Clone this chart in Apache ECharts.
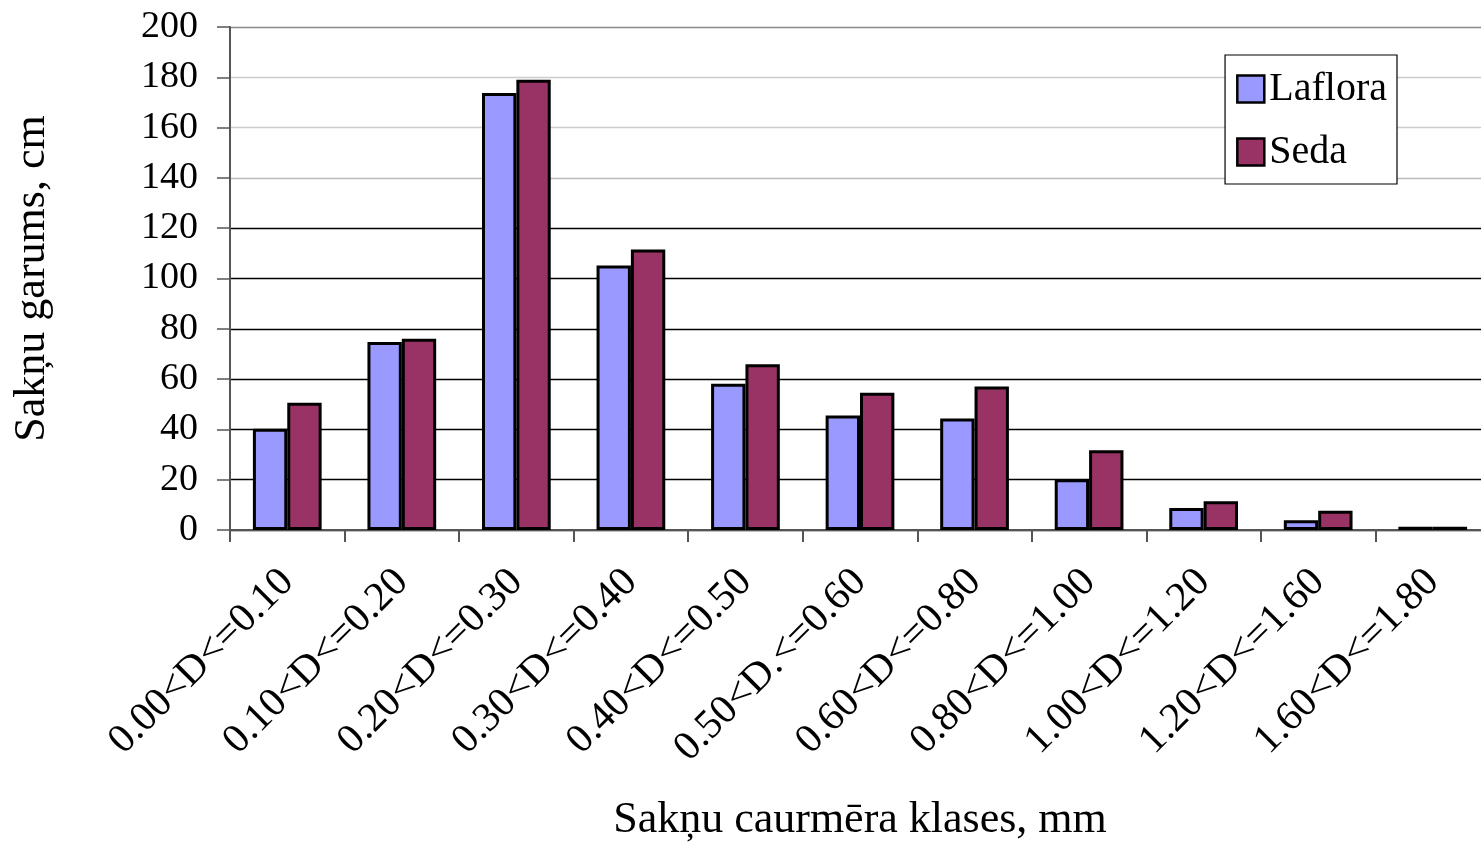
<!DOCTYPE html>
<html>
<head>
<meta charset="utf-8">
<script src="https://cdn.jsdelivr.net/npm/echarts@6/dist/echarts.min.js"></script>
<style>html,body{margin:0;padding:0;background:#fff;}#c{width:1481px;height:845px;}</style>
</head>
<body>
<div id="c"></div>
<script>
const categories = ['0.00<D<=0.10','0.10<D<=0.20','0.20<D<=0.30','0.30<D<=0.40','0.40<D<=0.50','0.50<D.<=0.60','0.60<D<=0.80','0.80<D<=1.00','1.00<D<=1.20','1.20<D<=1.60','1.60<D<=1.80'];
const laflora = [40.3, 74.8, 173.8, 105.2, 58.2, 45.5, 44.3, 20.2, 8.7, 3.9, 1.3];
const seda = [50.6, 76.0, 179.0, 111.5, 65.9, 54.6, 57.1, 31.7, 11.4, 7.7, 1.3];
const yTicks = {min: 0, max: 200, interval: 20};

const font = '"Liberation Serif", "DejaVu Serif", serif';
const chart = echarts.init(document.getElementById('c'));
chart.setOption({
  animation: false,
  backgroundColor: '#fff',
  textStyle: {fontFamily: font},
  legend: {
    right: 84, top: 55,
    orient: 'vertical',
    padding: [14, 10, 12, 11],
    itemGap: 23,
    itemWidth: 27, itemHeight: 27,
    icon: 'rect',
    borderColor: '#000', borderWidth: 1.2,
    borderRadius: 0,
    backgroundColor: '#fff',
    textStyle: {fontFamily: font, fontSize: 40, color: '#000', lineHeight: 40},
    data: [
      {name: 'Laflora', itemStyle: {color: '#9999ff', borderColor: '#000', borderWidth: 2.5}},
      {name: 'Seda', itemStyle: {color: '#993366', borderColor: '#000', borderWidth: 2.5}}
    ]
  },
  grid: {left: 230, top: 27, width: 1260, bottom: 315, containLabel: false, outerBoundsMode: 'none'},
  xAxis: {
    type: 'category',
    data: categories,
    name: 'Sakņu caurmēra klases, mm',
    nameLocation: 'middle',
    nameGap: 268,
    nameTextStyle: {fontFamily: font, fontSize: 44, color: '#000'},
    axisLine: {lineStyle: {color: '#555', width: 2}},
    axisTick: {show: true, length: 12, lineStyle: {color: '#555', width: 2}},
    axisLabel: {rotate: 45, fontFamily: font, fontSize: 41, color: '#000', margin: 46, interval: 0}
  },
  yAxis: {
    type: 'value',
    min: yTicks.min, max: yTicks.max, interval: yTicks.interval,
    name: 'Sakņu garums, cm',
    nameLocation: 'middle',
    nameGap: 176,
    nameTextStyle: {fontFamily: font, fontSize: 44, color: '#000'},
    axisLine: {show: true, lineStyle: {color: '#555', width: 2}},
    axisTick: {show: true, length: 13, lineStyle: {color: '#555', width: 1.5}},
    axisLabel: {fontFamily: font, fontSize: 38, color: '#000', margin: 32},
    splitLine: {show: true, lineStyle: {color: ['#000','#000','#000','#000','#000','#000','#000','#bbb','#ccc','#ccc','#888'], width: 1.3}}
  },
  series: [
    {name: 'Laflora', type: 'bar', data: laflora, barGap: '0%', barCategoryGap: '40%',
     itemStyle: {color: '#9999ff', borderColor: '#000', borderWidth: 3}},
    {name: 'Seda', type: 'bar', data: seda, barGap: '0%', barCategoryGap: '40%',
     itemStyle: {color: '#993366', borderColor: '#000', borderWidth: 3}}
  ]
});
</script>
</body>
</html>
